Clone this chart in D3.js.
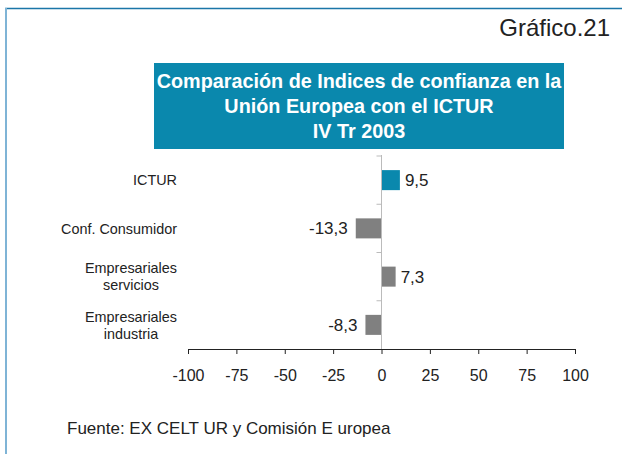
<!DOCTYPE html>
<html>
<head>
<meta charset="utf-8">
<script src="https://cdn.jsdelivr.net/npm/d3@7"></script>
<style>
  body { margin: 0; background: #fff; }
  svg { font-family: "Liberation Sans", Arial, sans-serif; }
</style>
</head>
<body>
<div id="chart"></div>
<script>
// data
var categories = ["ICTUR", "Conf. Consumidor", "Empresariales\nservicios", "Empresariales\nindustria"];
var values = [9.5, -13.3, 7.3, -8.3];
var barColors = ["#0a88ad", "#808080", "#808080", "#808080"];
var xTicks = [-100, -75, -50, -25, 0, 25, 50, 75, 100];
var titleLines = ["Comparación de Indices de confianza en la", "Unión Europea con el ICTUR", "IV Tr 2003"];

var W = 622, H = 454;

var data = categories.map(function(c, i){ return {cat: c, val: values[i], color: barColors[i]} });

// plain hyphen for negatives, like the original
var fmtTick = d => String(d);
var fmtVal = d => d.toFixed(1).replace(".", ",");

var svg = d3.select("#chart").append("svg")
  .attr("width", W)
  .attr("height", H);

// frame (top + left border)
svg.append("line").attr("x1", 5).attr("x2", W).attr("y1", 8.5).attr("y2", 8.5)
  .attr("stroke", "#1b76a8").attr("stroke-width", 1.5);
svg.append("line").attr("x1", 6).attr("x2", 6).attr("y1", 8).attr("y2", H)
  .attr("stroke", "#7fb4d6").attr("stroke-width", 2);

svg.append("text")
  .attr("x", 610).attr("y", 36)
  .attr("text-anchor", "end")
  .style("font-size", "24px")
  .style("fill", "#222")
  .text("Gráfico.21");

// title box
svg.append("rect")
  .attr("x", 154).attr("y", 63)
  .attr("width", 410).attr("height", 86)
  .attr("fill", "#0a88ad");

svg.selectAll(".title")
  .data(titleLines)
  .enter().append("text")
  .attr("class", "title")
  .attr("x", 359)
  .attr("y", (d, i) => 88 + i * 25)
  .attr("text-anchor", "middle")
  .style("font-size", "19.8px")
  .style("font-weight", "bold")
  .style("fill", "#fff")
  .text(d => d);

// scales
var x = d3.scaleLinear().domain([-100, 100]).range([188, 575]);
var y = d3.scaleBand().domain(categories).range([156, 349])
  .paddingInner(0.585).paddingOuter(0.2925);

// bars
svg.selectAll(".bar")
  .data(data)
  .enter().append("rect")
  .attr("class", "bar")
  .attr("x", d => x(Math.min(0, d.val)))
  .attr("width", d => Math.abs(x(d.val) - x(0)))
  .attr("y", d => y(d.cat))
  .attr("height", y.bandwidth())
  .attr("fill", d => d.color);

// zero axis (gray) with ticks between categories
var gap = y.step() * y.paddingInner() / 2;
svg.append("line")
  .attr("x1", x(0)).attr("x2", x(0))
  .attr("y1", y.range()[0] - 1).attr("y2", y.range()[1])
  .attr("stroke", "#bbb").attr("stroke-width", 1);
svg.selectAll(".ytick")
  .data(categories)
  .enter().append("line")
  .attr("class", "ytick")
  .attr("x1", x(0) - 5).attr("x2", x(0))
  .attr("y1", d => y(d) - gap).attr("y2", d => y(d) - gap)
  .attr("stroke", "#bbb");

// x axis
var xAxis = d3.axisBottom(x)
  .tickValues(xTicks)
  .tickSize(5)
  .tickSizeOuter(5)
  .tickPadding(16)
  .tickFormat(fmtTick);
var gx = svg.append("g")
  .attr("transform", "translate(0," + 349 + ")")
  .call(xAxis);
gx.selectAll("text").style("font-size", "16px").style("fill", "#222")
  .style("font-family", "Liberation Sans, Arial, sans-serif");
gx.select(".domain").attr("stroke", "#222");
gx.selectAll(".tick line").attr("stroke", "#222");

// value labels
svg.selectAll(".val")
  .data(data)
  .enter().append("text")
  .attr("class", "val")
  .attr("x", d => d.val >= 0 ? x(d.val) + 5 : x(d.val) - 8)
  .attr("y", d => y(d.cat) + y.bandwidth() / 2)
  .attr("dy", "0.36em")
  .attr("text-anchor", d => d.val >= 0 ? "start" : "end")
  .style("font-size", "17px")
  .style("fill", "#222")
  .text(d => fmtVal(d.val));

// category labels (right-aligned block, lines centred)
var catRight = 177;
var labels = svg.selectAll(".cat")
  .data(categories)
  .enter().append("text")
  .attr("class", "cat")
  .style("font-size", "14.4px")
  .style("fill", "#222");
labels.each(function(d){
  var lines = d.split("\n");
  var t = d3.select(this);
  var n = lines.length;
  lines.forEach(function(l, i){
    t.append("tspan")
      .attr("y", y(d) + y.bandwidth() / 2 + (i - (n - 1) / 2) * 17)
      .attr("dy", "0.36em")
      .text(l);
  });
  var maxW = 0;
  t.selectAll("tspan").each(function(){ maxW = Math.max(maxW, this.getComputedTextLength()) });
  t.selectAll("tspan").attr("x", catRight - maxW / 2).attr("text-anchor", "middle");
});

// source
svg.append("text")
  .attr("x", 67).attr("y", 434)
  .style("font-size", "17px")
  .style("fill", "#222")
  .text("Fuente: EX CELT UR y Comisión E uropea");
</script>
</body>
</html>
